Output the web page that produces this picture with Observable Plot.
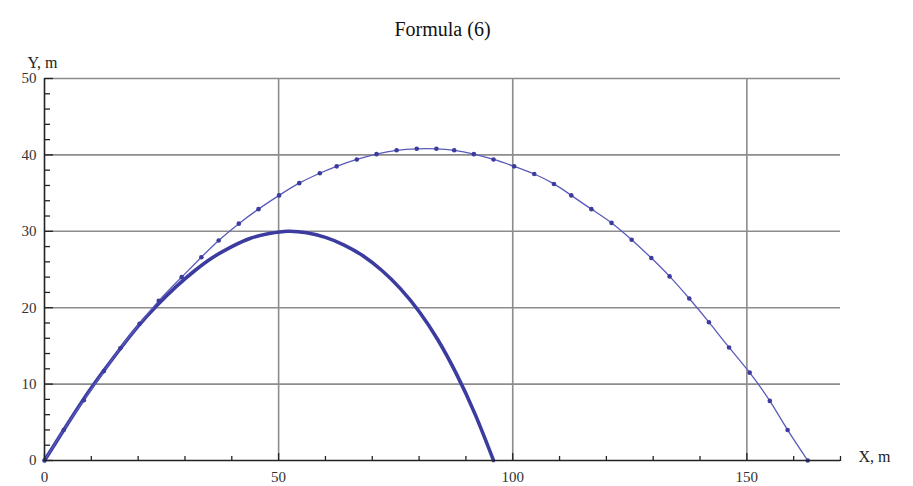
<!DOCTYPE html>
<html>
<head>
<meta charset="utf-8">
<script src="https://cdn.jsdelivr.net/npm/d3@7"></script>
<script src="https://cdn.jsdelivr.net/npm/@observablehq/plot@0.6"></script>
<style>
  html, body { margin: 0; padding: 0; background: #fff; }
</style>
</head>
<body>
<div id="chart"></div>
<script>
// Title and axis labels
const titleText = "Formula (6)";
const xLabel = "X, m";
const yLabel = "Y, m";

// Tick values
const xMajorTicks = [0, 50, 100, 150];
const xMinorTicks = [10, 20, 30, 40, 60, 70, 80, 90, 110, 120, 130, 140, 160, 170];
const yMajorTicks = [0, 10, 20, 30, 40, 50];
const yMinorTicks = [2, 4, 6, 8, 12, 14, 16, 18, 22, 24, 26, 28, 32, 34, 36, 38, 42, 44, 46, 48];
const xGridLines = [50, 100, 150];
const yGridLines = [10, 20, 30, 40, 50];

// Series 1: thin line with dots
const thinX = [0, 4.1, 8.4, 12.7, 16.2, 20.3, 24.4, 29.3, 33.5, 37.2, 41.5, 45.7, 50.1, 54.4, 58.8, 62.4, 66.7, 70.9, 75.2, 79.5,
               83.7, 87.5, 91.7, 95.9, 100.3, 104.6, 108.8, 112.5, 116.8, 121.1, 125.4, 129.6, 133.5, 137.7, 141.9, 146.2, 150.6, 154.9, 158.7, 163.0];
const thinY = [0, 4.0, 7.9, 11.7, 14.7, 17.9, 20.9, 24.0, 26.6, 28.8, 31.0, 32.9, 34.7, 36.3, 37.6, 38.5, 39.4, 40.1, 40.6, 40.8,
               40.8, 40.6, 40.1, 39.4, 38.5, 37.5, 36.2, 34.7, 32.9, 31.1, 28.9, 26.5, 24.1, 21.2, 18.1, 14.8, 11.5, 7.8, 4.0, 0];

// Series 2: thick line
const thickX = [0, 4, 8, 12, 16, 20, 24, 28, 32, 36, 40, 44, 48, 52, 56, 60, 64, 68, 72, 76, 80, 84, 88, 92, 95.9];
const thickY = [0, 3.9, 7.7, 11.2, 14.5, 17.6, 20.3, 22.7, 24.8, 26.6, 28.0, 29.1, 29.7, 30.0, 29.8, 29.2, 28.2, 26.8, 24.9, 22.5, 19.5, 15.8, 11.3, 6.0, 0];

const thin = thinX.map((x, i) => ({x, y: thinY[i]}));
const thick = thickX.map((x, i) => ({x, y: thickY[i]}));

const gridColor = "#8c8c8c";
const axisColor = "#222";
const labelColor = "#333";

const chart = Plot.plot({
  width: 913,
  height: 486,
  marginLeft: 44,
  marginRight: 73,
  marginTop: 78,
  marginBottom: 26,
  x: {domain: [0, 170], label: null},
  y: {domain: [0, 50], label: null},
  style: {fontFamily: "'Liberation Serif', 'DejaVu Serif', serif", fontSize: "15px", color: labelColor, background: "#fff"},
  marks: [
    Plot.gridX(xGridLines, {stroke: gridColor, strokeOpacity: 1, strokeWidth: 1.6}),
    Plot.gridY(yGridLines, {stroke: gridColor, strokeOpacity: 1, strokeWidth: 1.6}),
    // thick curve
    Plot.line(thick, {x: "x", y: "y", stroke: "#3b3ba0", strokeWidth: 3.6, curve: "natural"}),
    // thin curve with dots
    Plot.line(thin, {x: "x", y: "y", stroke: "#5a5abd", strokeWidth: 1.3, curve: "natural"}),
    Plot.dot(thin, {x: "x", y: "y", r: 2.3, fill: "#3c3c9e", stroke: "none"}),
    // axis lines
    Plot.ruleY([0], {stroke: axisColor, strokeWidth: 1.6}),
    Plot.ruleX([0], {stroke: axisColor, strokeWidth: 1.6}),
    // ticks pointing inward
    Plot.axisX({anchor: "top", frameAnchor: "bottom", ticks: xMinorTicks, tickSize: 5, text: null, label: null, stroke: axisColor, strokeWidth: 1.3}),
    Plot.axisX({anchor: "top", frameAnchor: "bottom", ticks: xMajorTicks, tickSize: 8, text: null, label: null, stroke: axisColor, strokeWidth: 1.3}),
    Plot.axisY({anchor: "right", frameAnchor: "left", ticks: yMinorTicks, tickSize: 5, text: null, label: null, stroke: axisColor, strokeWidth: 1.3}),
    Plot.axisY({anchor: "right", frameAnchor: "left", ticks: yMajorTicks, tickSize: 8, text: null, label: null, stroke: axisColor, strokeWidth: 1.3}),
    // tick labels
    Plot.axisX({ticks: xMajorTicks, tickSize: 0, tickPadding: 11, tickFormat: d => String(d), label: null, fill: labelColor, fontSize: 15}),
    Plot.axisY({ticks: yMajorTicks, tickSize: 0, tickPadding: 8, tickFormat: d => String(d), label: null, fill: labelColor, fontSize: 15}),
    // labels & title
    Plot.text([xLabel], {text: d => d, frameAnchor: "bottom-right", dx: 18, dy: 1, textAnchor: "start", fontSize: 16, fill: "#222"}),
    Plot.text([yLabel], {text: d => d, frameAnchor: "top-left", dx: -2, dy: -22, textAnchor: "middle", fontSize: 16, fill: "#222"}),
    Plot.text([titleText], {text: d => d, frameAnchor: "top", dy: -57, fontSize: 20, fill: "#111"})
  ]
});
document.getElementById("chart").append(chart);
</script>
</body>
</html>
